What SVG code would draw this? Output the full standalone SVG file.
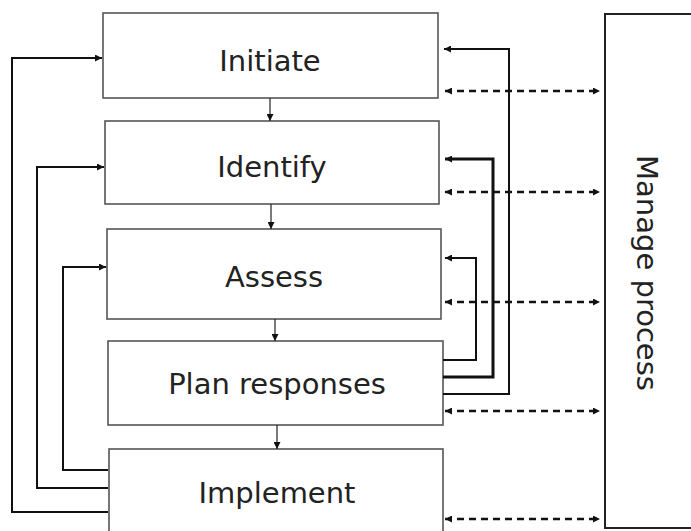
<svg xmlns="http://www.w3.org/2000/svg" width="691" height="531" viewBox="0 0 691 531">
<style>
.box{fill:#fff;stroke:#555;stroke-width:1.6}
.lbl{font-family:"DejaVu Sans",Verdana,sans-serif;font-size:29px;fill:#222;text-anchor:middle}
.fb{fill:none;stroke:#111;stroke-width:2}
.fbt{fill:none;stroke:#111;stroke-width:3}
.dn{fill:none;stroke:#222;stroke-width:1.2}
.ds{fill:none;stroke:#111;stroke-width:2.5;stroke-dasharray:7 5}
</style>
<defs>
<marker id="ah" viewBox="0 0 10 10" refX="10" refY="5" markerWidth="7" markerHeight="7" markerUnits="userSpaceOnUse" orient="auto-start-reverse">
<path d="M0,0 L10,5 L0,10 z" fill="#111"/>
</marker>
</defs>
<g id="manage">
<rect x="605" y="14" width="110" height="514" fill="#fff" stroke="#222" stroke-width="2"/>
<text class="lbl" transform="translate(637,273) rotate(90)" x="0" y="0">Manage process</text>
</g>
<g id="initiate">
<rect class="box" x="103" y="13" width="335" height="85"/>
<text class="lbl" x="270" y="71">Initiate</text>
</g>
<g id="identify">
<rect class="box" x="105" y="121" width="334" height="83"/>
<text class="lbl" x="272" y="177">Identify</text>
</g>
<g id="assess">
<rect class="box" x="107" y="229" width="334" height="90"/>
<text class="lbl" x="274" y="287">Assess</text>
</g>
<g id="plan">
<rect class="box" x="108" y="341" width="335" height="84"/>
<text class="lbl" x="277" y="394">Plan responses</text>
</g>
<g id="implement">
<rect class="box" x="109" y="449" width="334" height="95"/>
<text class="lbl" x="277" y="503">Implement</text>
</g>
<g id="connectors">
<path class="dn" d="M270 98 V121" marker-end="url(#ah)"/>
<path class="dn" d="M271 204 V229" marker-end="url(#ah)"/>
<path class="dn" d="M275 319 V341" marker-end="url(#ah)"/>
<path class="dn" d="M277 425 V449" stroke-width="1.6" marker-end="url(#ah)"/>
<path class="fb" d="M108 512 H12 V58 H102" stroke-width="2.5" marker-end="url(#ah)"/>
<path class="fb" d="M108 488 H37 V167 H104" marker-end="url(#ah)"/>
<path class="fb" d="M108 470 H63 V267 H106" marker-end="url(#ah)"/>
<path class="fb" d="M443 394 H509 V49 H444" marker-end="url(#ah)"/>
<path class="fbt" d="M443 377 H493 V159 H445" marker-end="url(#ah)"/>
<path class="fb" d="M443 360 H476 V258 H445" marker-end="url(#ah)"/>
<path class="ds" d="M445 91 H600" marker-start="url(#ah)" marker-end="url(#ah)"/>
<path class="ds" d="M445 192 H600" marker-start="url(#ah)" marker-end="url(#ah)"/>
<path class="ds" d="M445 302 H600" marker-start="url(#ah)" marker-end="url(#ah)"/>
<path class="ds" d="M445 411 H600" marker-start="url(#ah)" marker-end="url(#ah)"/>
<path class="ds" d="M445 519 H600" marker-start="url(#ah)" marker-end="url(#ah)"/>
</g>
</svg>
